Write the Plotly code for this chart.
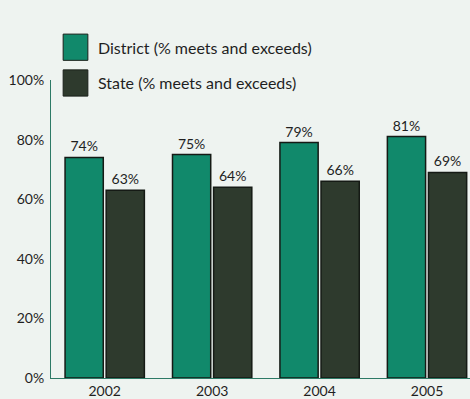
import plotly.graph_objects as go

years = ["2002", "2003", "2004", "2005"]
district = [74, 75, 79, 81]
state = [63, 64, 66, 69]
y_ticks = [0, 20, 40, 60, 80, 100]
y_tick_labels = ["0%", "20%", "40%", "60%", "80%", "100%"]
series_names = ["District (% meets and exceeds)", "State (% meets and exceeds)"]

teal = "#11896b"
dark = "#2e3a2d"
bg = "#eef3f0"
font_family = "Lato, 'Open Sans', sans-serif"
text_color = "#1f1f1f"

fig = go.Figure()
for name, vals, col in [(series_names[0], district, teal), (series_names[1], state, dark)]:
    fig.add_trace(go.Bar(
        x=years, y=vals, name=name,
        marker=dict(color=col, line=dict(color="#151a15", width=1.5)),
        texttemplate="%{y}%", textposition="outside", cliponaxis=False,
        textfont=dict(size=14, color=text_color, family=font_family),
        showlegend=False, hoverinfo="skip",
    ))

# custom legend (big square swatches), placed above the plot area
legend_y = [1.11, 0.99]
for (name, col), ly in zip([(series_names[0], teal), (series_names[1], dark)], legend_y):
    fig.add_shape(type="rect", xref="paper", yref="paper",
                  x0=0.029, x1=0.088, y0=ly - 0.044, y1=ly + 0.044,
                  fillcolor=col, line=dict(color="#1a201a", width=1))
    fig.add_annotation(xref="paper", yref="paper", x=0.108, y=ly, text=name,
                       showarrow=False, xanchor="left", yanchor="middle",
                       font=dict(size=16, color=text_color, family=font_family))

fig.update_layout(
    width=470, height=399,
    margin=dict(l=51, r=0, t=80, b=21, autoexpand=False),
    paper_bgcolor=bg, plot_bgcolor=bg,
    barmode="group", bargap=0.235, bargroupgap=0.07,
    font=dict(family=font_family, color=text_color, size=13),
    xaxis=dict(range=[-0.5, 3.4], showgrid=False, showline=True, automargin=False,
               linecolor="#2d7a66", linewidth=1, ticks="", tickfont=dict(size=14)),
    yaxis=dict(range=[0, 100], tickvals=y_ticks, ticktext=y_tick_labels, automargin=False,
               showgrid=False, showline=True, linecolor="#2d7a66", linewidth=1,
               ticks="", zeroline=False, tickfont=dict(size=14), ticklabelstandoff=3),
)

fig.write_html("out.html", config={"displayModeBar": False},
               post_script="document.body.style.margin='0';document.body.style.background='%s';" % bg)
